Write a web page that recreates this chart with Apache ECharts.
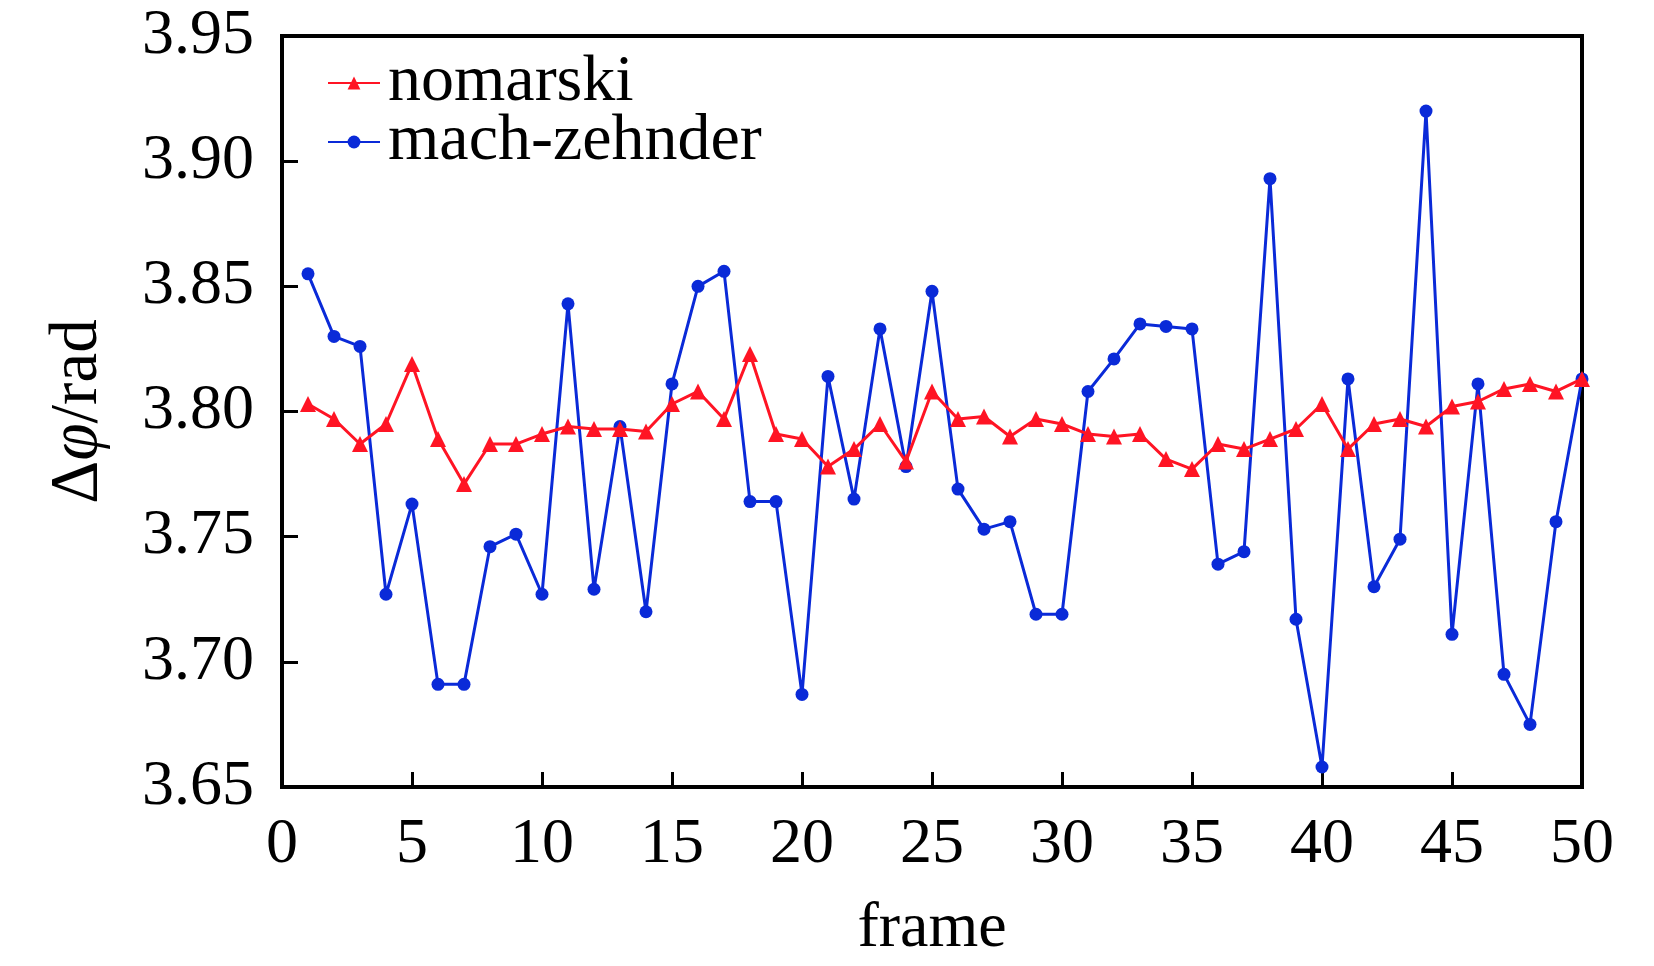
<!DOCTYPE html>
<html>
<head>
<meta charset="utf-8">
<script src="https://cdn.jsdelivr.net/npm/echarts@6/dist/echarts.min.js"></script>
<style>html,body{margin:0;padding:0;background:#fff}#c{width:1654px;height:966px}</style>
</head>
<body>
<div id="c"></div>
<script>
const frames = Array.from({length: 50}, (_, i) => i + 1);
const nomarski = [3.803,3.797,3.787,3.795,3.819,3.789,3.771,3.787,3.787,3.791,
                  3.794,3.793,3.793,3.792,3.803,3.808,3.797,3.823,3.791,3.789,
                  3.778,3.785,3.795,3.780,3.808,3.797,3.798,3.790,3.797,3.795,
                  3.791,3.790,3.791,3.781,3.777,3.787,3.785,3.789,3.793,3.803,
                  3.785,3.795,3.797,3.794,3.802,3.804,3.809,3.811,3.808,3.813];
const machZehnder = [3.855,3.830,3.826,3.727,3.763,3.691,3.691,3.746,3.751,3.727,
                     3.843,3.729,3.794,3.720,3.811,3.850,3.856,3.764,3.764,3.687,
                     3.814,3.765,3.833,3.778,3.848,3.769,3.753,3.756,3.719,3.719,
                     3.808,3.821,3.835,3.834,3.833,3.739,3.744,3.893,3.717,3.658,
                     3.813,3.730,3.749,3.920,3.711,3.811,3.695,3.675,3.756,3.813];
const yTicks = ['3.65','3.70','3.75','3.80','3.85','3.90','3.95'];
const xTicks = ['0','5','10','15','20','25','30','35','40','45','50'];

const font = '"Liberation Serif","Times New Roman",serif';
const chart = echarts.init(document.getElementById('c'), null, {renderer: 'canvas'});
chart.setOption({
  animation: false,
  backgroundColor: '#fff',
  textStyle: {fontFamily: font, color: '#000'},
  grid: {left: 282, right: 72, top: 36, bottom: 179, show: true, borderColor: '#000', borderWidth: 4, containLabel: false},
  legend: {
    left: 322, top: 45, orient: 'vertical',
    itemWidth: 52, itemHeight: 16, itemGap: -7,
    textStyle: {fontFamily: font, fontSize: 66, color: '#000', padding: [0, 0, 0, 3]},
    data: ['nomarski', 'mach-zehnder']
  },
  xAxis: {
    type: 'value', min: 0, max: 50, interval: 5,
    name: 'frame', nameLocation: 'middle', nameGap: 110,
    nameTextStyle: {fontFamily: font, fontSize: 64, color: '#000'},
    axisLine: {show: true, lineStyle: {color: '#000', width: 4}},
    axisTick: {show: true, inside: true, length: 15, lineStyle: {color: '#000', width: 3}},
    axisLabel: {fontFamily: font, fontSize: 64, color: '#000', margin: 26,
      formatter: v => xTicks[Math.round(v / 5)]},
    splitLine: {show: false}
  },
  yAxis: {
    type: 'value', min: 3.65, max: 3.95, interval: 0.05,
    name: '\u0394{i|\u03c6}/rad', nameLocation: 'middle', nameGap: 170, nameRotate: 90,
    nameTextStyle: {fontFamily: font, fontSize: 67, color: '#000',
      rich: {i: {fontFamily: font, fontSize: 67, fontStyle: 'italic', color: '#000'}}},
    axisLine: {show: true, lineStyle: {color: '#000', width: 4}},
    axisTick: {show: true, inside: true, length: 16, lineStyle: {color: '#000', width: 3}},
    axisLabel: {fontFamily: font, fontSize: 64, color: '#000', margin: 28,
      formatter: v => yTicks[Math.round((v - 3.65) / 0.05)]},
    splitLine: {show: false}
  },
  series: [
    {
      name: 'nomarski', type: 'line',
      data: frames.map((f, i) => [f, nomarski[i]]),
      symbol: 'triangle', symbolSize: 16,
      lineStyle: {color: '#ff1424', width: 3},
      itemStyle: {color: '#ff1424'},
      z: 3
    },
    {
      name: 'mach-zehnder', type: 'line',
      data: frames.map((f, i) => [f, machZehnder[i]]),
      symbol: 'circle', symbolSize: 13,
      lineStyle: {color: '#0a2ad8', width: 3},
      itemStyle: {color: '#0a2ad8'},
      z: 2
    }
  ]
});
</script>
</body>
</html>
